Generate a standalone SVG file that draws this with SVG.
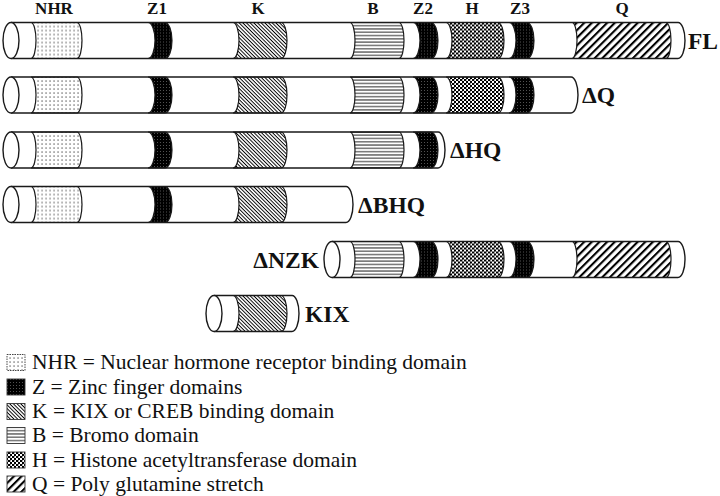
<svg xmlns="http://www.w3.org/2000/svg" xmlns:xlink="http://www.w3.org/1999/xlink" width="720" height="496" viewBox="0 0 720 496">
<style>
.ol{fill:none;stroke:#1a1a1a;stroke-width:1.4}
.bd{fill:#fff;stroke:none}
.end{fill:#fff;stroke:#1a1a1a;stroke-width:1.4}
.bs{stroke:#1a1a1a;stroke-width:1.2}
.hdr{font-family:"Liberation Serif","Times New Roman",serif;font-weight:bold;font-size:17px;fill:#111;text-anchor:middle}
.lbl{font-family:"Liberation Serif","Times New Roman",serif;font-weight:bold;font-size:23.5px;fill:#111}
.leg{font-family:"Liberation Serif","Times New Roman",serif;font-size:21.5px;fill:#111}
.box{stroke:#333;stroke-width:0.9}
</style>
<defs>
<pattern id="pNHR" width="4" height="4" patternUnits="userSpaceOnUse"><rect width="4" height="4" fill="#fff"/><rect x="1.5" y="1.5" width="1.1" height="1.1" fill="#222"/></pattern>
<pattern id="pZ" width="3" height="3" patternUnits="userSpaceOnUse"><rect width="3" height="3" fill="#000"/><rect x="1" y="1" width="0.9" height="0.9" fill="#fff" opacity="0.4"/></pattern>
<pattern id="pK" width="2.6" height="2.6" patternUnits="userSpaceOnUse" patternTransform="rotate(45)"><rect width="2.6" height="2.6" fill="#fff"/><rect y="0" width="2.6" height="0.95" fill="#000"/></pattern>
<pattern id="pB" width="4" height="3.3" patternUnits="userSpaceOnUse"><rect width="4" height="3.3" fill="#fff"/><rect y="1.2" width="4" height="0.9" fill="#111"/></pattern>
<pattern id="pH" width="4" height="4" patternUnits="userSpaceOnUse"><rect width="4" height="4" fill="#fff"/><rect x="0" y="0" width="2" height="2" fill="#000"/><rect x="2" y="2" width="2" height="2" fill="#000"/><rect x="2" y="0.5" width="0.8" height="0.8" fill="#000"/></pattern>
<pattern id="pQ" width="5.4" height="5.4" patternUnits="userSpaceOnUse" patternTransform="rotate(45)"><rect width="5.4" height="5.4" fill="#fff"/><rect x="0" y="0" width="2.1" height="5.4" fill="#000"/></pattern>
<path id="bNHR" class="bs" fill="url(#pNHR)" d="M31,-18 A5 18 0 0 1 31,18 L77,18 A5 18 0 0 0 77,-18 Z"/>
<path id="bZ1" class="bs" fill="url(#pZ)" d="M148,-18 A7 18 0 0 1 148,18 L165,18 A7 18 0 0 0 165,-18 Z"/>
<path id="bK" class="bs" fill="url(#pK)" d="M233,-18 A6 18 0 0 1 233,18 L281,18 A6 18 0 0 0 281,-18 Z"/>
<path id="bB" class="bs" fill="url(#pB)" d="M350,-18 A5 18 0 0 1 350,18 L399,18 A5 18 0 0 0 399,-18 Z"/>
<path id="bZ2" class="bs" fill="url(#pZ)" d="M413,-18 A7 18 0 0 1 413,18 L431,18 A7 18 0 0 0 431,-18 Z"/>
<path id="bH" class="bs" fill="url(#pH)" d="M446,-18 A6 18 0 0 1 446,18 L498,18 A6 18 0 0 0 498,-18 Z"/>
<path id="bZ3" class="bs" fill="url(#pZ)" d="M509,-18 A7 18 0 0 1 509,18 L527,18 A7 18 0 0 0 527,-18 Z"/>
<path id="bQ" class="bs" fill="url(#pQ)" d="M572,-18 A5 18 0 0 1 572,18 L666,18 A5 18 0 0 0 666,-18 Z"/>
</defs>
<rect width="720" height="496" fill="#fff"/>

<g id="headers">
<text class="hdr" x="54" y="14">NHR</text>
<text class="hdr" x="157" y="14">Z1</text>
<text class="hdr" x="258" y="14">K</text>
<text class="hdr" x="373" y="14">B</text>
<text class="hdr" x="423" y="14">Z2</text>
<text class="hdr" x="472" y="14">H</text>
<text class="hdr" x="520" y="14">Z3</text>
<text class="hdr" x="622" y="14">Q</text>
</g>

<g id="connectors"/>

<g id="FL" transform="translate(0,40.5)">
<path class="bd" d="M11,-18 L678,-18 A7 18 0 0 1 678,18 L11,18 Z"/>
<use xlink:href="#bNHR"/><use xlink:href="#bZ1"/><use xlink:href="#bK"/><use xlink:href="#bB"/><use xlink:href="#bZ2"/><use xlink:href="#bH"/><use xlink:href="#bZ3"/><use xlink:href="#bQ"/>
<path class="ol" d="M11,-18 L678,-18 A7 18 0 0 1 678,18 L11,18"/>
<ellipse class="end" cx="11" cy="0" rx="8" ry="18"/>
<text class="lbl" x="688" y="8">FL</text>
</g>

<g id="dQ" transform="translate(0,95)">
<path class="bd" d="M11,-18 L571,-18 A7 18 0 0 1 571,18 L11,18 Z"/>
<use xlink:href="#bNHR"/><use xlink:href="#bZ1"/><use xlink:href="#bK"/><use xlink:href="#bB"/><use xlink:href="#bZ2"/><use xlink:href="#bH"/><use xlink:href="#bZ3"/>
<path class="ol" d="M11,-18 L571,-18 A7 18 0 0 1 571,18 L11,18"/>
<ellipse class="end" cx="11" cy="0" rx="8" ry="18"/>
<text class="lbl" x="582" y="8">ΔQ</text>
</g>

<g id="dHQ" transform="translate(0,150)">
<path class="bd" d="M11,-18 L438,-18 A7 18 0 0 1 438,18 L11,18 Z"/>
<use xlink:href="#bNHR"/><use xlink:href="#bZ1"/><use xlink:href="#bK"/><use xlink:href="#bB"/><use xlink:href="#bZ2"/>
<path class="ol" d="M11,-18 L438,-18 A7 18 0 0 1 438,18 L11,18"/>
<ellipse class="end" cx="11" cy="0" rx="8" ry="18"/>
<text class="lbl" x="450" y="8">ΔHQ</text>
</g>

<g id="dBHQ" transform="translate(0,204.5)">
<path class="bd" d="M11,-18 L346,-18 A7 18 0 0 1 346,18 L11,18 Z"/>
<use xlink:href="#bNHR"/><use xlink:href="#bZ1"/><use xlink:href="#bK"/>
<path class="ol" d="M11,-18 L346,-18 A7 18 0 0 1 346,18 L11,18"/>
<ellipse class="end" cx="11" cy="0" rx="8" ry="18"/>
<text class="lbl" x="358" y="8">ΔBHQ</text>
</g>

<g id="dNZK" transform="translate(0,259.5)">
<path class="bd" d="M332,-18 L678,-18 A7 18 0 0 1 678,18 L332,18 Z"/>
<use xlink:href="#bB"/><use xlink:href="#bZ2"/><use xlink:href="#bH"/><use xlink:href="#bZ3"/><use xlink:href="#bQ"/>
<path class="ol" d="M332,-18 L678,-18 A7 18 0 0 1 678,18 L332,18"/>
<ellipse class="end" cx="332" cy="0" rx="8" ry="18"/>
<text class="lbl" x="319" y="8" text-anchor="end">ΔNZK</text>
</g>

<g id="KIX" transform="translate(0,313.5)">
<path class="bd" d="M214,-18 L292,-18 A7 18 0 0 1 292,18 L214,18 Z"/>
<use xlink:href="#bK"/>
<path class="ol" d="M214,-18 L292,-18 A7 18 0 0 1 292,18 L214,18"/>
<ellipse class="end" cx="214" cy="0" rx="8" ry="18"/>
<text class="lbl" x="305" y="8">KIX</text>
</g>

<g id="legend">
<rect class="box" x="7" y="354.5" width="18" height="16" fill="url(#pNHR)" stroke-dasharray="1.5 1"/>
<text class="leg" x="32" y="369">NHR = Nuclear hormone receptor binding domain</text>
<rect class="box" x="7" y="379" width="18" height="16" fill="url(#pZ)"/>
<text class="leg" x="32" y="393.5">Z = Zinc finger domains</text>
<rect class="box" x="7" y="403.5" width="18" height="16" fill="url(#pK)"/>
<text class="leg" x="32" y="418">K = KIX or CREB binding domain</text>
<rect class="box" x="7" y="427.5" width="18" height="16" fill="url(#pB)"/>
<text class="leg" x="32" y="442">B = Bromo domain</text>
<rect class="box" x="7" y="452" width="18" height="16" fill="url(#pH)"/>
<text class="leg" x="32" y="466.5">H = Histone acetyltransferase domain</text>
<rect class="box" x="7" y="476" width="18" height="16" fill="url(#pQ)"/>
<text class="leg" x="32" y="490.5">Q = Poly glutamine stretch</text>
</g>
</svg>
